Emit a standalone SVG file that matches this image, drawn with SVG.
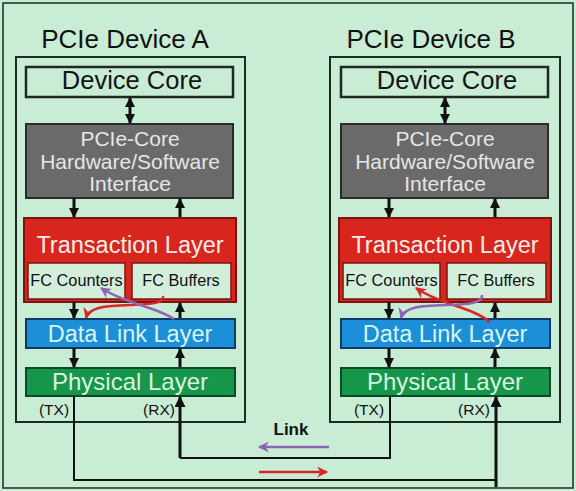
<svg xmlns="http://www.w3.org/2000/svg" width="576" height="491" viewBox="0 0 576 491">
<defs>
<style>
text{font-family:"Liberation Sans",Arial,sans-serif;text-anchor:middle}
.dev{fill:none;stroke:#1c2a1f;stroke-width:2}
.core{fill:#c9ecd5;stroke:#1c2a1f;stroke-width:2.5}
.gray{fill:#6a6a6a;stroke:#2a2a2a;stroke-width:2}
.tl{fill:#d8261e;stroke:#7a1410;stroke-width:2}
.fc{fill:#d3eedb;stroke:#7a1410;stroke-width:1.5}
.dl{fill:#1c8fd8;stroke:#0e3a66;stroke-width:2}
.ph{fill:#16964a;stroke:#0a4a24;stroke-width:2}
.ar{stroke:#111;stroke-width:3;fill:none}
.wire{stroke:#111;stroke-width:2;fill:none}
.wire3{stroke:#111;stroke-width:3;fill:none}
.red{stroke:#d8262a;stroke-width:2.5;fill:none}
.pur{stroke:#8c66b0;stroke-width:2.5;fill:none}
.title{font-size:26px;fill:#111}
.coreT{font-size:25.5px;fill:#141414}
.grayT{font-size:21px;fill:#e6e6e6}
.tlT{font-size:23.5px;fill:#fbeee6}
.fcT{font-size:16.3px;fill:#111}
.dlT{font-size:23.5px;fill:#d6f6f4}
.phT{font-size:24px;fill:#d9f5df}
.io{font-size:15.5px;fill:#111}
</style>
<marker id="ab" viewBox="0 0 10 10" refX="9" refY="5" markerWidth="10" markerHeight="10" markerUnits="userSpaceOnUse" orient="auto-start-reverse"><path d="M0,0 L10,5 L0,10 z" fill="#111"/></marker>
<marker id="abL" viewBox="0 0 10 10" refX="9" refY="5" markerWidth="11" markerHeight="11" markerUnits="userSpaceOnUse" orient="auto"><path d="M0,0 L10,5 L0,10 z" fill="#111"/></marker>
<marker id="ar" viewBox="0 0 10 10" refX="9" refY="5" markerWidth="11" markerHeight="11" markerUnits="userSpaceOnUse" orient="auto"><path d="M0,0 L10,5 L0,10 L3,5 z" fill="#d8262a"/></marker>
<marker id="ap" viewBox="0 0 10 10" refX="9" refY="5" markerWidth="11" markerHeight="11" markerUnits="userSpaceOnUse" orient="auto"><path d="M0,0 L10,5 L0,10 L3,5 z" fill="#8c66b0"/></marker>
</defs>
<rect x="0" y="0" width="576" height="491" fill="#c9ecd5"/>
<rect x="3" y="3" width="570" height="485" fill="none" stroke="#1c2a1f" stroke-width="1.5"/>

<g id="deviceA">
<text class="title" x="125" y="48">PCIe Device A</text>
<rect class="dev" x="16" y="57" width="229" height="365"/>
</g>
<g id="deviceB">
<text class="title" x="431" y="48">PCIe Device B</text>
<rect class="dev" x="330" y="57" width="230" height="365"/>
</g>

<g id="coreA"><rect class="core" x="26" y="67" width="207" height="30"/><text class="coreT" x="132" y="89">Device Core</text></g>
<g id="coreB"><rect class="core" x="341" y="67" width="207" height="30"/><text class="coreT" x="447" y="89">Device Core</text></g>

<g id="ifaceA"><rect class="gray" x="26" y="124" width="207" height="74"/>
<text class="grayT" x="130" y="146">PCIe-Core</text><text class="grayT" x="130" y="169">Hardware/Software</text><text class="grayT" x="130" y="191">Interface</text></g>
<g id="ifaceB"><rect class="gray" x="341" y="124" width="207" height="74"/>
<text class="grayT" x="445" y="146">PCIe-Core</text><text class="grayT" x="445" y="169">Hardware/Software</text><text class="grayT" x="445" y="191">Interface</text></g>

<g id="transA"><rect class="tl" x="24" y="218" width="212" height="84"/>
<text class="tlT" x="130" y="253">Transaction Layer</text></g>
<g id="fcCountersA"><rect class="fc" x="28" y="263" width="97" height="36"/><text class="fcT" x="76.5" y="286">FC Counters</text></g>
<g id="fcBuffersA"><rect class="fc" x="132" y="263" width="99" height="36"/><text class="fcT" x="181" y="286">FC Buffers</text></g>

<g id="transB"><rect class="tl" x="339" y="218" width="212" height="84"/>
<text class="tlT" x="445" y="253">Transaction Layer</text></g>
<g id="fcCountersB"><rect class="fc" x="343" y="263" width="97" height="36"/><text class="fcT" x="391.5" y="286">FC Counters</text></g>
<g id="fcBuffersB"><rect class="fc" x="447" y="263" width="99" height="36"/><text class="fcT" x="496" y="286">FC Buffers</text></g>

<g id="dllA"><rect class="dl" x="26" y="319" width="209" height="29"/><text class="dlT" x="130" y="342">Data Link Layer</text></g>
<g id="dllB"><rect class="dl" x="341" y="319" width="209" height="29"/><text class="dlT" x="445" y="342">Data Link Layer</text></g>

<g id="phyA"><rect class="ph" x="26" y="368" width="209" height="28"/><text class="phT" x="130" y="390">Physical Layer</text>
<text class="io" x="54" y="415">(TX)</text><text class="io" x="159" y="415">(RX)</text></g>
<g id="phyB"><rect class="ph" x="341" y="368" width="209" height="28"/><text class="phT" x="445" y="390">Physical Layer</text>
<text class="io" x="369" y="415">(TX)</text><text class="io" x="474" y="415">(RX)</text></g>

<g id="linkLabel"><text x="291" y="435" style="font-size:17px;font-weight:bold;fill:#111">Link</text></g>

<g id="connectors">
<line class="ar" x1="130" y1="98" x2="130" y2="123" marker-start="url(#ab)" marker-end="url(#ab)"/>
<line class="ar" x1="445" y1="98" x2="445" y2="123" marker-start="url(#ab)" marker-end="url(#ab)"/>
<line class="ar" x1="74" y1="198" x2="74" y2="217" marker-end="url(#ab)"/>
<line class="ar" x1="180" y1="217" x2="180" y2="199" marker-end="url(#ab)"/>
<line class="ar" x1="389" y1="198" x2="389" y2="217" marker-end="url(#ab)"/>
<line class="ar" x1="495" y1="217" x2="495" y2="199" marker-end="url(#ab)"/>
<line class="ar" x1="74" y1="302" x2="74" y2="318" marker-end="url(#ab)"/>
<line class="ar" x1="180" y1="318" x2="180" y2="303" marker-end="url(#ab)"/>
<line class="ar" x1="389" y1="302" x2="389" y2="318" marker-end="url(#ab)"/>
<line class="ar" x1="495" y1="318" x2="495" y2="303" marker-end="url(#ab)"/>
<line class="ar" x1="74" y1="348" x2="74" y2="367" marker-end="url(#ab)"/>
<line class="ar" x1="180" y1="367" x2="180" y2="349" marker-end="url(#ab)"/>
<line class="ar" x1="389" y1="348" x2="389" y2="367" marker-end="url(#ab)"/>
<line class="ar" x1="495" y1="367" x2="495" y2="349" marker-end="url(#ab)"/>
<path class="wire" d="M74,396 V480 H496"/>
<path class="wire3" d="M496,487 V397" marker-end="url(#abL)"/>
<path class="wire" d="M390,396 V458 H180"/>
<path class="wire3" d="M180,458 V397" marker-end="url(#abL)"/>
<path class="red" d="M163,296 C165,306 140,304 112,306 C96,307 88,311 86,318" marker-end="url(#ar)"/>
<path class="pur" d="M174,319 C155,306 125,304 101,288" marker-end="url(#ap)"/>
<path class="red" d="M490,322 C470,306 440,305 416,288" marker-end="url(#ar)"/>
<path class="pur" d="M482,295 C484,306 455,304 427,306 C411,307 403,311 401,318" marker-end="url(#ap)"/>
<line class="pur" x1="329" y1="447" x2="259" y2="447" stroke-width="3" marker-end="url(#ap)"/>
<line class="red" x1="259" y1="472" x2="327" y2="472" stroke-width="3" marker-end="url(#ar)"/>
</g>
</svg>
